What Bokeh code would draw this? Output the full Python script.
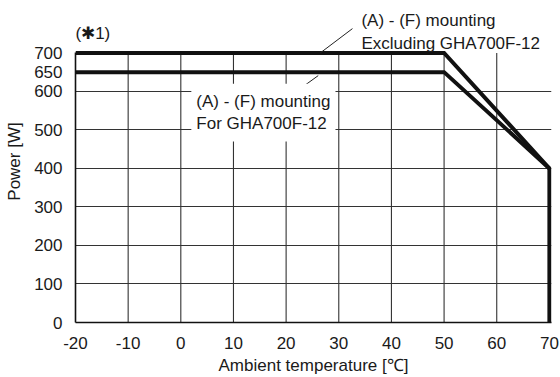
from bokeh.plotting import figure
from bokeh.models import Range1d, FixedTicker, Label, Arrow
from bokeh.embed import file_html
from bokeh.resources import INLINE

# ---- data ----
temp_excl = [-20, 50, 70, 70]
power_excl = [700, 700, 400, 0]
temp_for = [-20, 50, 70]
power_for = [650, 650, 400]

x_ticks = [-20, -10, 0, 10, 20, 30, 40, 50, 60, 70]
y_ticks = [0, 100, 200, 300, 400, 500, 600, 650, 700]
x_grid = [-10, 0, 10, 20, 30, 40, 50, 60]
y_grid = [100, 200, 300, 400, 500, 600]
y_max = 700

label_excl = "(A) - (F) mounting\nExcluding GHA700F-12"
label_for = "(A) - (F) mounting\nFor GHA700F-12"
note = "(\u27311)"

FONT = "Liberation Sans"
FS = "17px"
INK = "#1a1a1a"
GRID = "#333333"

p = figure(width=560, height=377, output_backend="svg", toolbar_location=None,
           x_range=Range1d(-20, 70.4), y_range=Range1d(0, 836),
           min_border_left=75, min_border_right=9, min_border_top=0, min_border_bottom=55)
p.outline_line_color = None
p.background_fill_color = "white"
p.border_fill_color = "white"

for ax in (p.xaxis[0], p.yaxis[0]):
    ax.major_tick_in = 0
    ax.major_tick_out = 0
    ax.minor_tick_in = 0
    ax.minor_tick_out = 0
    ax.axis_line_color = "#111111"
    ax.axis_line_width = 1.6
    ax.major_label_text_font = FONT
    ax.major_label_text_font_size = FS
    ax.major_label_text_color = INK
    ax.axis_label_text_font = FONT
    ax.axis_label_text_font_size = FS
    ax.axis_label_text_font_style = "normal"
    ax.axis_label_text_color = INK

p.xaxis.ticker = FixedTicker(ticks=x_ticks)
p.yaxis.ticker = FixedTicker(ticks=y_ticks)
p.xaxis.major_label_overrides = {t: str(t) for t in x_ticks}
p.yaxis.bounds = (0, y_max)
p.xaxis.axis_label = "Ambient temperature [\u2103]"
p.yaxis.axis_label = "Power [W]"
p.xaxis.major_label_standoff = 14
p.yaxis.major_label_standoff = 13
p.xaxis.axis_label_standoff = 4
p.yaxis.axis_label_standoff = 7

p.xgrid.visible = False
p.ygrid.ticker = FixedTicker(ticks=y_grid)
p.ygrid.grid_line_color = GRID
p.ygrid.grid_line_width = 1.1

# vertical grid lines, limited to the 0..700 band
p.segment(x0=x_grid, y0=[0] * len(x_grid), x1=x_grid, y1=[y_max] * len(x_grid),
          line_color=GRID, line_width=1.1)

p.line(temp_excl, power_excl, line_color="#111111", line_width=4, line_join="miter")
p.line(temp_for, power_for, line_color="#111111", line_width=4, line_join="miter")

# leader lines
p.add_layout(Arrow(end=None, x_start=26.5, y_start=700, x_end=32.6, y_end=763,
                   line_color="#222222", line_width=1))
p.add_layout(Arrow(end=None, x_start=26.1, y_start=641, x_end=22.15, y_end=602,
                   line_color="#222222", line_width=1))

p.add_layout(Label(x=34.3, y=755, text=label_excl, text_align="left", text_baseline="middle",
                   text_font=FONT, text_font_size=FS, text_color=INK, text_line_height=1.2))
p.add_layout(Label(x=2.0, y=545, text=label_for, text_align="left", text_baseline="middle",
                   text_font=FONT, text_font_size=FS, text_color=INK, text_line_height=1.2,
                   background_fill_color="white", padding=(5, 8)))
p.add_layout(Label(x=-20, y=750, text=note, text_align="left", text_baseline="middle",
                   text_font=FONT, text_font_size=FS, text_color=INK))

open("out.html", "w").write(file_html(p, INLINE))
